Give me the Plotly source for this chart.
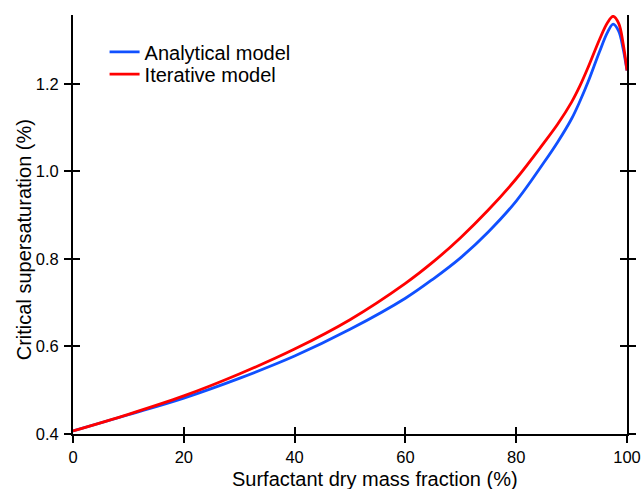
import plotly.graph_objects as go

# Surfactant dry mass fraction (%)
mass_fraction = [0, 10, 20, 30, 40, 50, 60, 65, 70, 75, 80, 85, 87.5, 90, 91.5, 93, 95, 96.5, 97.5, 98.5, 99.3, 100]
# Critical supersaturation (%)
analytical = [0.407, 0.444, 0.482, 0.527, 0.578, 0.639, 0.710, 0.754, 0.803, 0.862, 0.932, 1.020, 1.067, 1.120, 1.160, 1.205, 1.272, 1.318, 1.336, 1.320, 1.280, 1.230]
iterative = [0.407, 0.445, 0.487, 0.537, 0.594, 0.661, 0.744, 0.793, 0.849, 0.912, 0.983, 1.065, 1.108, 1.158, 1.195, 1.238, 1.300, 1.340, 1.354, 1.338, 1.292, 1.230]

x_ticks = [0, 20, 40, 60, 80, 100]
y_ticks = [0.4, 0.6, 0.8, 1.0, 1.2]
x_title = "Surfactant dry mass fraction (%)"
y_title = "Critical supersaturation (%)"

FONT = "Liberation Sans, Arial, sans-serif"

fig = go.Figure()
fig.add_trace(go.Scatter(x=mass_fraction, y=analytical, mode="lines", name="Analytical model",
                         line=dict(color="#1050ff", width=2.8, shape="spline", smoothing=1.0),
                         legend="legend", showlegend=True))
fig.add_trace(go.Scatter(x=mass_fraction, y=iterative, mode="lines", name="Iterative model",
                         line=dict(color="#ff0000", width=2.8, shape="spline", smoothing=1.0),
                         legend="legend2", showlegend=True))
# empty trace so the inner-tick overlay axes are drawn
fig.add_trace(go.Scatter(x=[], y=[], xaxis="x2", yaxis="y2", showlegend=False, hoverinfo="skip"))

axis_common = dict(tickfont=dict(family=FONT, size=16.5, color="black"), tickcolor="black",
                   tickwidth=1.6, ticklen=7, showgrid=False, zeroline=False, automargin=False)

fig.update_layout(
    width=641, height=489,
    showlegend=True,
    margin=dict(l=73, r=14, t=15, b=55, autoexpand=False),
    paper_bgcolor="white", plot_bgcolor="white",
    font=dict(family=FONT, color="black"),
    xaxis=dict(range=[0, 100], tickvals=x_ticks, ticks="outside", showline=True,
               linecolor="black", linewidth=2, ticklabelstandoff=0, **axis_common),
    yaxis=dict(range=[0.4, 1.357], tickvals=y_ticks, tickformat=".1f", ticks="outside",
               showline=True, linecolor="black", linewidth=2, mirror="ticks",
               ticklabelstandoff=2, **axis_common),
    xaxis2=dict(range=[0, 100], tickvals=x_ticks, ticks="inside", showline=False,
                showticklabels=False, overlaying="x", anchor="y", **axis_common),
    yaxis2=dict(range=[0.4, 1.357], tickvals=y_ticks, ticks="inside", showline=False,
                showticklabels=False, overlaying="y", anchor="x", mirror="ticks", **axis_common),
    legend=dict(x=0.057, y=0.912, xanchor="left", yanchor="middle", bgcolor="rgba(0,0,0,0)",
                font=dict(family=FONT, size=20, color="black")),
    legend2=dict(x=0.057, y=0.859, xanchor="left", yanchor="middle", bgcolor="rgba(0,0,0,0)",
                 font=dict(family=FONT, size=20, color="black")),
    annotations=[
        dict(text=x_title, xref="paper", yref="paper", x=0.545, y=-0.107, xanchor="center",
             yanchor="middle", showarrow=False, font=dict(family=FONT, size=20, color="black")),
        dict(text=y_title, xref="paper", yref="paper", x=-0.089, y=0.464, xanchor="center",
             yanchor="middle", textangle=-90, showarrow=False,
             font=dict(family=FONT, size=20, color="black")),
    ],
)

fig.write_html("out.html", config={"displayModeBar": False},
               post_script="document.body.style.margin='0';document.body.style.overflow='hidden';")
